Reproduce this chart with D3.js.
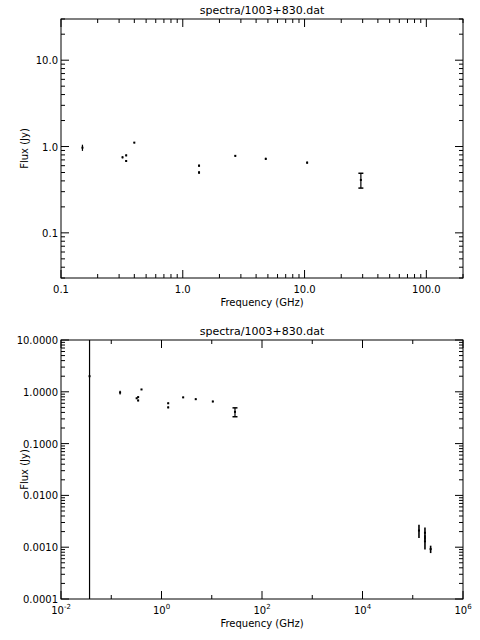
<!DOCTYPE html>
<html><head><meta charset="utf-8">
<script src="https://cdn.jsdelivr.net/npm/d3@7"></script>
<style>body{margin:0;background:#fff}svg{display:block}text{font-family:"DejaVu Sans",sans-serif;font-size:10px;fill:#000}</style>
</head><body><svg id="c" width="480" height="640"></svg>
<script>
const title = "spectra/1003+830.dat";
const freq  = [0.037, 0.15, 0.32, 0.343, 0.343, 0.40, 1.36, 1.36, 2.7, 4.8, 10.5, 29, 1.33e5, 1.75e5, 1.75e5, 2.27e5];
const flux  = [2.0, 0.97, 0.75, 0.79, 0.68, 1.11, 0.60, 0.50, 0.78, 0.72, 0.65, 0.41, 0.0021, 0.0019, 0.0013, 0.00092];
const fluxErr = [1e4, 0.08, 0.02, 0.02, 0.02, 0.02, 0.02, 0.02, 0.02, 0.02, 0.02, 0.08, 0.0006, 0.0005, 0.0004, 0.00015];
const capped = [false,false,false,false,false,false,false,false,false,false,false,true,false,false,false,false];
const topYTicks = [0.1, 1, 10];
const topYLabels = ["0.1", "1.0", "10.0"];
const topXTicks = [0.1, 1, 10, 100];
const topXLabels = ["0.1", "1.0", "10.0", "100.0"];
const botYTicks = [1e-4, 1e-3, 1e-2, 0.1, 1, 10];
const botYLabels = ["0.0001", "0.0010", "0.0100", "0.1000", "1.0000", "10.0000"];
const botXTicks = [-2, 0, 2, 4, 6];

const svg = d3.select("#c");
function panel(o){
  const g = svg.append("g");
  const x = d3.scaleLog().domain(o.xd).range([61, 463]);
  const y = d3.scaleLog().domain(o.yd).range([o.y1, o.y0]);
  const id = "clip"+o.y0;
  svg.append("clipPath").attr("id", id).append("rect").attr("x",61).attr("y",o.y0).attr("width",402).attr("height",o.y1-o.y0);
  g.append("rect").attr("x",61).attr("y",o.y0).attr("width",402).attr("height",o.y1-o.y0).attr("fill","none").attr("stroke","#000");
  o.xMinor.forEach(v=>{const px=x(v); const L=o.xMajor.includes(v)?8:4;
    g.append("line").attr("x1",px).attr("x2",px).attr("y1",o.y1).attr("y2",o.y1-L).attr("stroke","#000");
    g.append("line").attr("x1",px).attr("x2",px).attr("y1",o.y0).attr("y2",o.y0+L).attr("stroke","#000");});
  o.yMinor.forEach(v=>{const py=y(v); const L=o.yMajor.includes(v)?8:4;
    g.append("line").attr("x1",61).attr("x2",61+L).attr("y1",py).attr("y2",py).attr("stroke","#000");
    g.append("line").attr("x1",463).attr("x2",463-L).attr("y1",py).attr("y2",py).attr("stroke","#000");});
  o.yMajor.forEach((v,i)=>g.append("text").attr("x",58).attr("y",y(v)+4).attr("text-anchor","end").text(o.yLabels[i]));
  o.xMajor.forEach((v,i)=>{const t=g.append("text").attr("x",x(v)).attr("y",o.y1+15).attr("text-anchor","middle");
    if(o.sup){t.append("tspan").text("10");t.append("tspan").attr("dy",-5).style("font-size","7px").text(o.xLabels[i]);}
    else t.text(o.xLabels[i]);});
  g.append("text").attr("x",262).attr("y",o.y1+28).attr("text-anchor","middle").text("Frequency (GHz)");
  g.append("text").attr("transform",`translate(28,${(o.y0+o.y1)/2}) rotate(-90)`).attr("text-anchor","middle").text("Flux (Jy)");
  g.append("text").attr("x",262).attr("y",o.y0-5).attr("text-anchor","middle").style("font-size","11px").text(title);
  const d = g.append("g").attr("clip-path",`url(#${id})`);
  freq.forEach((f,i)=>{
    const px=x(f), lo=Math.max(flux[i]-fluxErr[i],1e-8), hi=flux[i]+fluxErr[i];
    d.append("line").attr("x1",px).attr("x2",px).attr("y1",y(lo)).attr("y2",y(hi)).attr("stroke","#000").attr("stroke-width",i>=12?1.6:1.2);
    if(capped[i]){[lo,hi].forEach(v=>d.append("line").attr("x1",px-2.5).attr("x2",px+2.5).attr("y1",y(v)).attr("y2",y(v)).attr("stroke","#000").attr("stroke-width",1.5));}
    d.append("rect").attr("x",px-1).attr("y",y(flux[i])-1).attr("width",2).attr("height",2).attr("fill","#000");
  });
}
const dec = (a,b)=>{const r=[];for(let e=a;e<=b;e++)for(let m=1;m<10;m++)r.push(+(m*Math.pow(10,e)).toPrecision(3));return r;};
panel({xd:[0.1,200], yd:[0.03,30], y0:19, y1:278,
  xMajor:topXTicks, xLabels:topXLabels, xMinor:dec(-1,2).filter(v=>v<=200),
  yMajor:topYTicks, yLabels:topYLabels, yMinor:dec(-2,1).filter(v=>v>=0.03&&v<=30)});
panel({xd:[1e-2,1e6], yd:[1e-4,10], y0:340, y1:599, sup:true,
  xMajor:botXTicks.map(e=>Math.pow(10,e)), xLabels:botXTicks.map(String), xMinor:d3.range(-2,7).map(e=>Math.pow(10,e)),
  yMajor:botYTicks, yLabels:botYLabels, yMinor:dec(-4,0).concat([10])});
</script></body></html>
